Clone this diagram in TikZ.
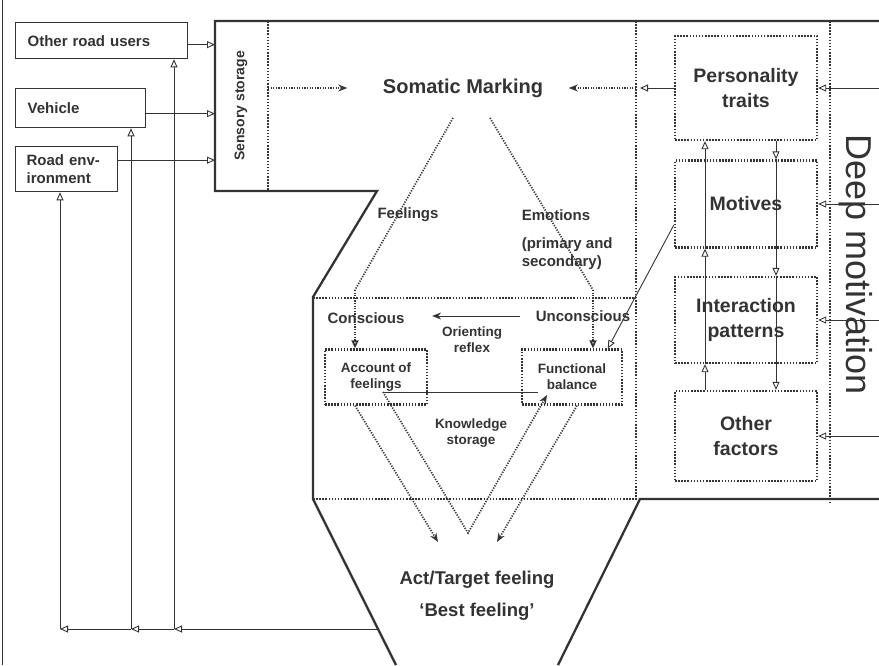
\documentclass[tikz,border=0pt]{standalone}
\usepackage{fontspec}
\setmainfont{Liberation Sans}
\usepackage{tikz}
\usetikzlibrary{arrows.meta,calc,positioning}
\definecolor{ink}{gray}{0.2}

\begin{document}
\begin{tikzpicture}[x=1pt,y=-1pt,color=ink,line width=0.9pt,node distance=116pt]
\tikzstyle{line box}=[rectangle,draw,line width=1.3pt,inner sep=0pt,anchor=north west]
\tikzstyle{dot box}=[rectangle,draw,line width=2.3pt,dash pattern=on 1.5pt off 1.6pt]

\tikzset{
	frame line/.style={line width=2.3pt},
	dot line/.style={line width=2.3pt,dash pattern=on 1.5pt off 1.6pt},
	feel line/.style={line width=1.7pt,dash pattern=on 1.2pt off 1.4pt},
	open head/.style={-{Triangle[open,length=8pt,width=7pt]}},
	full head/.style={-{Stealth[length=9pt,width=7pt]}},
	small text/.style={font=\fontsize{13.5}{16}\selectfont\bfseries},
	mid text/.style={font=\fontsize{15}{18}\selectfont\bfseries},
	big text/.style={font=\fontsize{19.5}{25}\selectfont\bfseries}
}

\useasboundingbox (0,0) rectangle (879,665);
\draw[line width=0.8pt] (2,0) -- (2,665);

% outline of the model
\draw[frame line] (879,21) -- (215,21) -- (215,191) -- (377,191) -- (313,297) -- (313,499) -- (396,665);
\draw[frame line] (879,499) -- (640,499) -- (558,665);
\draw[dot line] (268,21) -- (268,191);
\draw[dot line] (636,21) -- (636,499);
\draw[dot line] (830,21) -- (830,503);
\draw[dot line] (313,298) -- (636,298);
\draw[dot line] (313,499) -- (640,499);

% inputs
\node[line box,minimum width=172pt,minimum height=36pt,text width=148pt,align=left,mid text] (ou) at (15,22) {Other road users};
\node[line box,minimum width=130pt,minimum height=39pt,text width=106pt,align=left,mid text] (veh) at (15,88) {Vehicle};
\node[line box,minimum width=102pt,minimum height=45pt,text width=80pt,align=left,mid text] (env) at (15,146) {Road env-\\ironment};
\node[font=\fontsize{14}{16}\selectfont\bfseries,rotate=90] (sens) at (241,106) {Sensory storage};

\node[font=\fontsize{20}{24}\selectfont\bfseries] (som) at (463,88) {Somatic Marking};

% deep motivation column
\node[dot box,big text,minimum width=142pt,minimum height=104pt,align=center] (per) at (746,88) {Personality\\traits};
\node[dot box,big text,minimum width=142pt,minimum height=87pt,align=center] (mot) [below of=per] {Motives};
\node[dot box,big text,minimum width=142pt,minimum height=86pt,align=center] (inter) [below of=mot] {Interaction\\patterns};
\node[dot box,big text,minimum width=142pt,minimum height=90pt,align=center] (other) [below of=inter] {Other\\factors};
\node[font=\fontsize{36}{40}\selectfont,rotate=-90] (deep) at (856,265) {Deep motivation};

% middle part
\node[mid text] (feel) at (408,215) {Feelings};
\node[mid text,anchor=west] (emo) at (518,215) {Emotions};
\node[mid text,anchor=north west,align=left] (prim) at (518,234) {(primary and\\secondary)};
\node[mid text] (con) at (366,318) {Conscious};
\node[mid text] (unc) at (583,316) {Unconscious};
\node[small text,align=center] (ori) at (472,340) {Orienting\\reflex};
\node[dot box,small text,minimum width=102pt,minimum height=55pt,align=center] (acc) at (376,377) {Account of\\feelings};
\node[dot box,small text,minimum width=100pt,minimum height=55pt,align=center] (fun) at (572,377) {Functional\\balance};
\node[small text,align=center] (know) at (471,433) {Knowledge\\storage};
\node[align=center,font=\fontsize{18.5}{32}\selectfont\bfseries] (act) at (477,596) {Act/Target feeling\\`Best feeling'};

\coordinate (sl) at (215,0);
\coordinate (oui) at ([yshift=-4pt]ou.east);
\coordinate (vei) at ([yshift=-5.5pt]veh.east);
\coordinate (eni) at ([yshift=9pt]env.east);
\coordinate (ssep) at (268,88);
\coordinate (rsep) at (636,88);
\coordinate (rgap) at (640,88);
\coordinate (up) at (705,0);
\coordinate (dn) at (776,0);
\coordinate (re) at (879,0);
\coordinate (fs) at (453,118);
\coordinate (fl) at (355,290);
\coordinate (es) at (490,118);
\coordinate (el) at (593,290);
\coordinate (va) at (383,392);
\coordinate (vd) at (538,392);
\coordinate (vb) at (468,533);
\coordinate (vc) at (547,395);
\coordinate (ff) at (577,0);
\coordinate (ta) at (438,542);
\coordinate (tb) at (497,542);
\coordinate (fb) at (377,629);
\coordinate (j1) at (174,629);
\coordinate (j2) at (131,629);
\coordinate (j3) at (60,629);

\path[open head] (oui) edge (oui -| sl)
	(vei) edge (vei -| sl)
	(eni) edge (eni -| sl)
	(per.west) edge (rgap)
	(other.north -| up) edge (inter.south -| up)
	(inter.south -| up) edge (mot.south -| up)
	(mot.south -| up) edge (per.south -| up)
	(per.south -| dn) edge (mot.north -| dn)
	(mot.north -| dn) edge (inter.north -| dn)
	(inter.north -| dn) edge (other.north -| dn)
	(per.east -| re) edge (per.east)
	(mot.east -| re) edge (mot.east)
	(inter.east -| re) edge (inter.east)
	(other.east -| re) edge (other.east)
	([yshift=-21pt]mot.west) edge ($(fun.north east)!0.15!(fun.north west)$)
	(fb) edge (j1)
	(j1) edge (j2)
	(j2) edge (j3)
	(j1) edge (ou.south -| j1)
	(j2) edge (veh.south -| j2)
	(j3) edge (env.south -| j3);

\path[feel line,full head] (ssep) edge[shorten >=32pt] (som.west)
	(rsep) edge[shorten >=22pt] (som.east)
	(acc.south -| fl) edge (ta)
	(fun.south -| ff) edge (tb);
\path[full head] (unc.west) edge[shorten <=12pt,shorten >=24pt] (con.east |- unc.west);

\draw[feel line] (fs) -- (fl);
\draw[feel line] (es) -- (el);
\path[feel line,open head] (fl) edge (acc.north -| fl)
	(el) edge (fun.north -| el);
\draw (va) -- (vd);
\draw[feel line,full head] (va) -- (vb) -- (vc);
\end{tikzpicture}
\end{document}
